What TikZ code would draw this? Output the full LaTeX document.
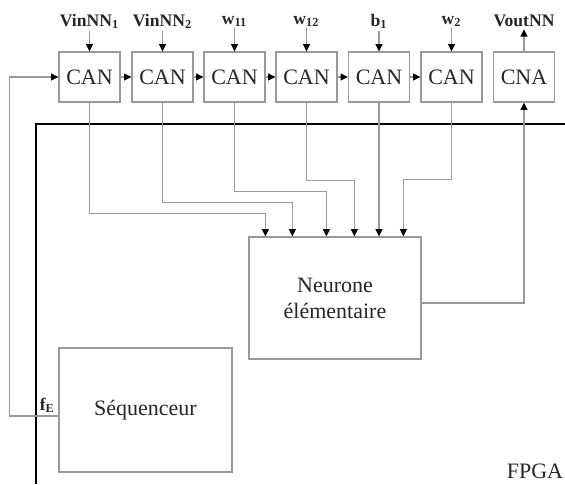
\documentclass[tikz,border=0pt]{standalone}
\usepackage{fontspec}
\setmainfont{Liberation Serif}
\usepackage{tikz}
\usetikzlibrary{arrows.meta, calc}
\definecolor{linegray}{gray}{0.6}
\definecolor{txtgray}{gray}{0.15}
\tikzset{
  box/.style={draw=linegray, line width=0.65pt, inner sep=0pt, minimum width=30.5pt, minimum height=25pt, text=txtgray, font=\fontsize{11}{13}\selectfont},
  bigbox/.style={box, minimum width=86pt, minimum height=61pt, align=center},
  lbl/.style={inner sep=1pt, font=\fontsize{8.8}{10}\selectfont\bfseries, text=txtgray},
  wire/.style={draw=linegray, line width=0.65pt},
  arr/.style={wire, -{Triangle[length=3.6pt, width=3.4pt, color=black]}}
}
\begin{document}
\begin{tikzpicture}[x=0.5pt, y=-0.5pt]
      \useasboundingbox (0,0) rectangle (565,484);
      % FPGA border
      \draw[line width=1.1pt] (36,484) -- (36,124) -- (565,124);
      \node[box, draw=none] (fpga) at (535,471) {FPGA};

      % Converters and their inputs
      \foreach \i/\x/\lab in {1/89.5/{VinNN\textsubscript{1}}, 2/162.5/{VinNN\textsubscript{2}}, 3/234.5/{w\textsubscript{11}}, 4/306.5/{w\textsubscript{12}}, 5/379/{b\textsubscript{1}}, 6/451.5/{w\textsubscript{2}}} {
        \node[box] (can\i) at (\x,77) {CAN};
        \node[lbl] (in\i) at (\x,21) {\lab};
        \draw[arr] (in\i) -- (can\i);
      }
      \foreach \i/\j in {1/2, 2/3, 3/4, 4/5, 5/6} {
        \draw[arr] (can\i) -- (can\j);
      }
      \node[box] (cna) at (524,77) {CNA};
      \node[lbl] (out) at (524,21) {VoutNN};
      \draw[arr] (cna) -- (out);

      % Neuron
      \node[bigbox] (neur) at (335,298) {Neurone\\élémentaire};
      \coordinate (d1) at ($(neur.north west)+(17,0)$);
      \coordinate (d2) at ($(neur.north west)+(44,0)$);
      \coordinate (d3) at ($(neur.north west)+(78,0)$);
      \coordinate (d4) at ($(neur.north west)+(106,0)$);
      \coordinate (d6) at ($(neur.north west)+(155,0)$);
      \draw[arr] (can1.south) |- ($(d1)+(0,-23)$) -- (d1);
      \draw[arr] (can2.south) |- ($(d2)+(0,-34)$) -- (d2);
      \draw[arr] (can3.south) |- ($(d3)+(0,-45)$) -- (d3);
      \draw[arr] (can4.south) |- ($(d4)+(0,-56)$) -- (d4);
      \draw[arr] (can5.south) -- (can5.south |- neur.north);
      \draw[arr] (can6.south) |- ($(d6)+(0,-57)$) -- (d6);
      \draw[arr] ($(neur.east)+(0,5)$) -| (cna.south);

      % Sequencer
      \node[bigbox, minimum width=86.5pt, minimum height=62pt] (seq) at (145.5,410) {Séquenceur};
      \draw[arr] ($(seq.west)+(0,6)$) -- ++(-49,0) |- (can1.west);
      \node[lbl, anchor=south] (fe) at ($(seq.west)+(-11,5)$) {f\textsubscript{E}};
    \end{tikzpicture}
\end{document}
